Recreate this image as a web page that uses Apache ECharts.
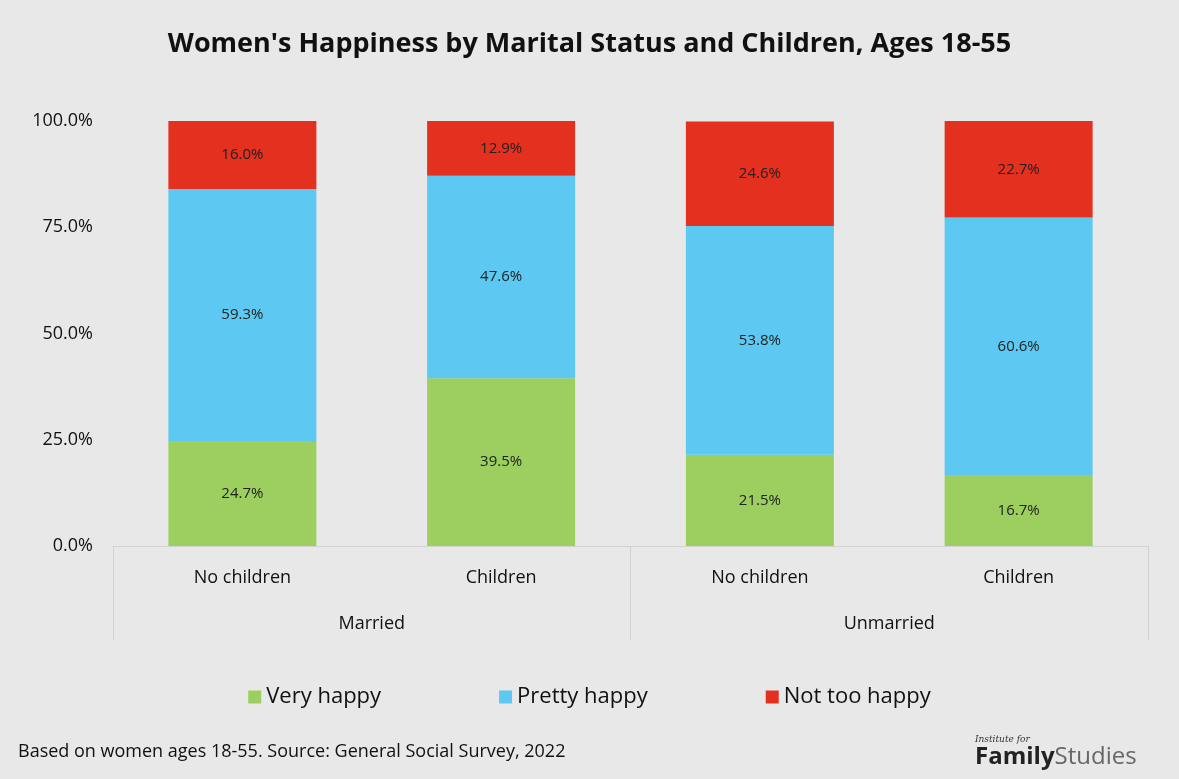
<!DOCTYPE html>
<html><head><meta charset="utf-8">
<script src="https://cdn.jsdelivr.net/npm/echarts@6/dist/echarts.min.js"></script>
<style>html,body{margin:0;padding:0;background:#e9e8e8}#c{width:1179px;height:779px}</style>
</head><body><div id="c"></div>
<script>
const categories = ['No children','Children','No children','Children'];
const groups = ['Married','Unmarried'];
const veryHappy = [24.7, 39.5, 21.5, 16.7];
const prettyHappy = [59.3, 47.6, 53.8, 60.6];
const notTooHappy = [16.0, 12.9, 24.6, 22.7];
const yTicks = [0, 25, 50, 75, 100];

const font = 'Open Sans';
const lbl = {show:true, position:'inside', color:'#222', fontSize:15, fontFamily:font, formatter:p=>p.value.toFixed(1)+'%'};
function s(name, data, color){
  return {name, type:'bar', stack:'a', data, barWidth:148, itemStyle:{color}, label:lbl};
}
const chart = echarts.init(document.getElementById('c'));
chart.setOption({
  backgroundColor:'#e9e8e8',
  animation:false,
  title:{text:"Women's Happiness by Marital Status and Children, Ages 18-55", left:'center', top:26,
    textStyle:{fontFamily:font, fontSize:27, fontWeight:'bold', color:'#111'}},
  legend:{bottom:66, left:'center', itemWidth:13, itemHeight:13, itemGap:118, icon:'rect',
    textStyle:{fontFamily:font, fontSize:22, color:'#111'}},
  grid:{left:113, right:31, top:121, bottom:233},
  xAxis:[
    {type:'category', data:categories, axisLine:{lineStyle:{color:'#d2d2d2'}}, axisTick:{show:false},
     axisLabel:{fontFamily:font, fontSize:18, color:'#111', margin:23}},
    {type:'category', data:groups, position:'bottom', axisLine:{show:false},
     axisTick:{show:true, length:94, inside:false, lineStyle:{color:'#d2d2d2'}},
     axisLabel:{fontFamily:font, fontSize:18, color:'#111', margin:69}}
  ],
  yAxis:{type:'value', min:0, max:100, interval:25, splitLine:{show:false},
    axisLabel:{fontFamily:font, fontSize:18, color:'#111', margin:20, formatter:v=>v.toFixed(1)+'%'}},
  series:[s('Very happy', veryHappy, '#9ccf5f'), s('Pretty happy', prettyHappy, '#5dc8f1'), s('Not too happy', notTooHappy, '#e3301f')],
  graphic:[
    {type:'text', left:18, top:743, style:{text:'Based on women ages 18-55. Source: General Social Survey, 2022', font:'18px "Open Sans"', fill:'#111'}},
    {type:'text', left:975, top:735, style:{text:'Institute for', font:'italic 9px "DejaVu Serif"', fill:'#333'}},
    {type:'text', left:975, top:745, style:{rich:{a:{font:'bold 24px "Open Sans"', fill:'#222'}, b:{font:'24px "Open Sans"', fill:'#666'}}, text:'{a|Family}{b|Studies}'}}
  ]
});
</script></body></html>
